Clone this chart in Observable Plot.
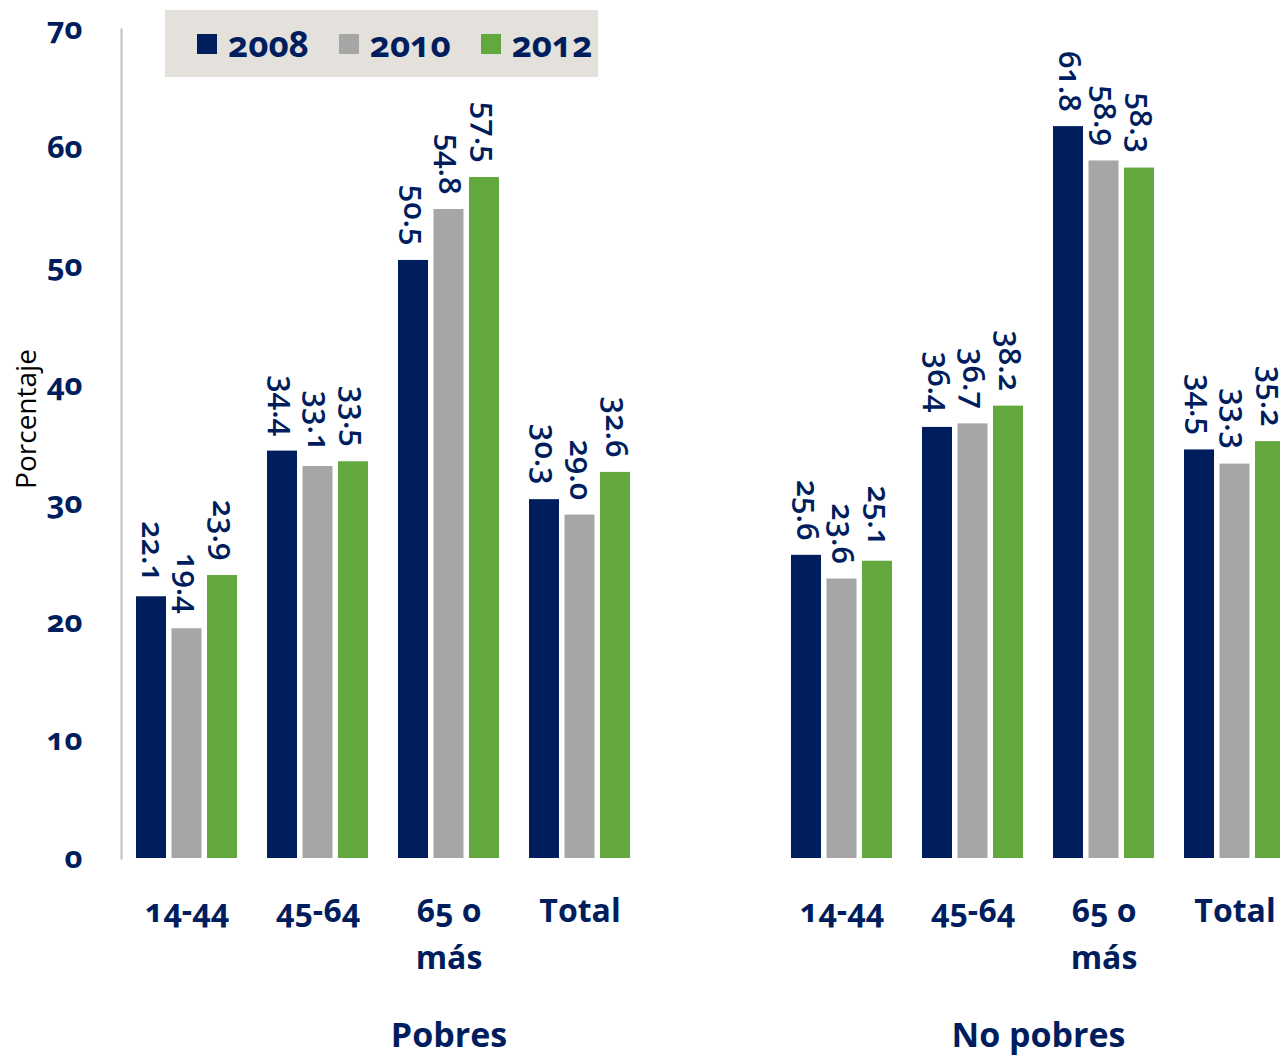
<!DOCTYPE html>
<html>
<head>
<meta charset="utf-8">
<script src="https://cdn.jsdelivr.net/npm/d3@7"></script>
<script src="https://cdn.jsdelivr.net/npm/@observablehq/plot@0.6"></script>
<style>
  html, body { margin: 0; padding: 0; background: #fff; overflow: hidden; }
  #wrap { position: relative; width: 1280px; height: 1056px; }
  #chart svg text { font-variant-numeric: oldstyle-nums; }
  #legend {
    position: absolute; left: 165px; top: 10px; width: 433px; height: 67px;
    background: #e4e1dc; display: flex; align-items: center; box-sizing: border-box;
    padding-left: 32px; font-family: "Open Sans", sans-serif; font-weight: 700;
    font-size: 35px; color: #001e5e; font-variant-numeric: oldstyle-nums;
  }
  #legend .item { display: flex; align-items: center; margin-right: 30px; }
  #legend .sw { width: 20px; height: 20px; margin-right: 11px; }
</style>
</head>
<body>
<div id="wrap">
  <div id="chart"></div>
  <div id="legend"></div>
</div>
<script>
const groups = ["Pobres", "No pobres"];
const groupKeys = ["P", "N"];
const categories = ["14-44", "45-64", "65 o más", "Total"];
const categoryLabels = ["14-44", "45-64", "65 o\nmás", "Total"];
const years = ["2008", "2010", "2012"];
const colors = ["#001e5e", "#a6a6a6", "#63a83c"];

const pobres2008 = [22.1, 34.4, 50.5, 30.3];
const pobres2010 = [19.4, 33.1, 54.8, 29.0];
const pobres2012 = [23.9, 33.5, 57.5, 32.6];
const noPobres2008 = [25.6, 36.4, 61.8, 34.5];
const noPobres2010 = [23.6, 36.7, 58.9, 33.3];
const noPobres2012 = [25.1, 38.2, 58.3, 35.2];

const yTicks = [0, 10, 20, 30, 40, 50, 60, 70];

const series = {
  P: [pobres2008, pobres2010, pobres2012],
  N: [noPobres2008, noPobres2010, noPobres2012]
};

const rows = [];
groupKeys.forEach(g => {
  categories.forEach((c, ci) => {
    years.forEach((y, yi) => {
      rows.push({key: g + "|" + c, cat: c, year: y, value: series[g][yi][ci]});
    });
  });
});

const domain = [
  ...categories.map(c => "P|" + c),
  "gap",
  ...categories.map(c => "N|" + c)
];
const labelOf = k => {
  if (k === "gap") return "";
  const c = k.split("|")[1];
  return categoryLabels[categories.indexOf(c)];
};

const navy = "#001e5e";
const step = 131;
const off = 35.5;
const insetsL = [0, off, 2 * off];
const insetsR = [2 * off, off, 0];
const dxs = [-off, 0, off];

const marks = [];
years.forEach((y, i) => {
  const d = rows.filter(r => r.year === y);
  marks.push(Plot.barY(d, {
    x: "key", y: "value", fill: "year",
    insetLeft: insetsL[i], insetRight: insetsR[i]
  }));
  marks.push(Plot.text(d, {
    x: "key", y: "value", text: r => r.value.toFixed(1),
    rotate: 90, textAnchor: "end", dx: dxs[i], dy: -15,
    fill: navy, fontSize: 31, fontWeight: 600
  }));
});

const chart = Plot.plot({
  width: 1280,
  height: 1056,
  marginTop: 29,
  marginBottom: 198,
  marginLeft: 121,
  marginRight: 0,
  style: {fontFamily: "'Open Sans', sans-serif", background: "transparent"},
  x: {domain, range: [121, 121 + 9 * step], paddingInner: 0.229, paddingOuter: 0.1145},
  y: {domain: [0, 70], range: [858, 29]},
  color: {domain: years, range: colors},
  marks: [
    Plot.frame({anchor: "left", stroke: "#bfbfbf", strokeWidth: 2}),
    ...marks,
    Plot.axisY({ticks: yTicks, tickSize: 0, tickPadding: 39, fontSize: 31, fontWeight: "bold", fill: navy, label: null}),
    Plot.axisX({tickSize: 0, tickPadding: 30, tickFormat: labelOf, fontSize: 32, fontWeight: "bold", fill: navy, lineHeight: 1.47, label: null}),
    Plot.text([groups[0]], {x: () => "P|65 o más", frameAnchor: "bottom", text: d => d, dy: 188, fontSize: 34, fontWeight: "bold", fill: navy}),
    Plot.text([groups[1]], {x: () => "N|45-64", frameAnchor: "bottom", text: d => d, dx: step / 2, dy: 188, fontSize: 34, fontWeight: "bold", fill: navy}),
    Plot.text(["Porcentaje"], {frameAnchor: "left", text: d => d, rotate: -90, textAnchor: "middle", dx: -94, dy: -25, fontSize: 28, fill: "#000"})
  ]
});
document.getElementById("chart").appendChild(chart);

const legend = document.getElementById("legend");
years.forEach((y, i) => {
  const item = document.createElement("div");
  item.className = "item";
  const sw = document.createElement("div");
  sw.className = "sw";
  sw.style.background = colors[i];
  const t = document.createElement("span");
  t.textContent = y;
  item.appendChild(sw);
  item.appendChild(t);
  legend.appendChild(item);
});
</script>
</body>
</html>
